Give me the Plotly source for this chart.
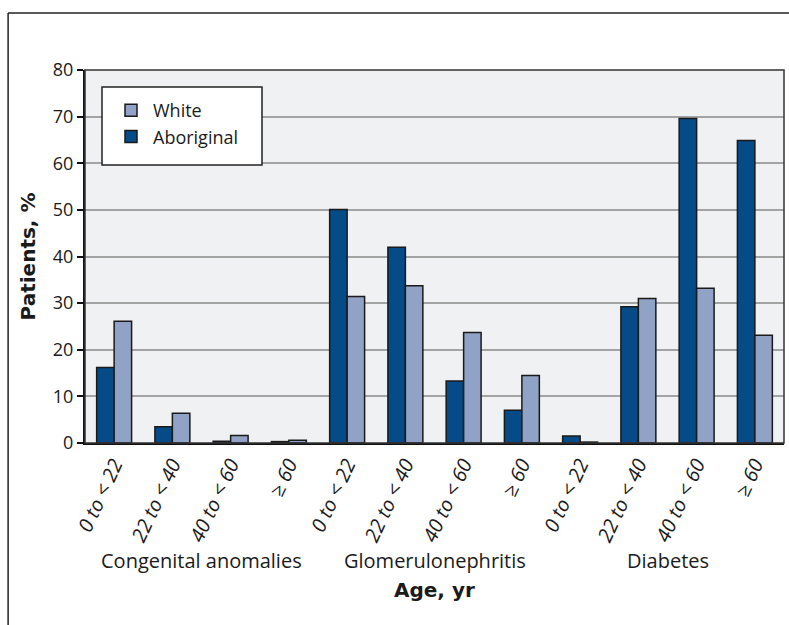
import plotly.graph_objects as go

age_labels = ["0 to < 22", "22 to < 40", "40 to < 60", "≥ 60"] * 3
groups = ["Congenital anomalies", "Glomerulonephritis", "Diabetes"]
aboriginal = [16.2, 3.5, 0.4, 0.3, 50.1, 42.0, 13.3, 7.0, 1.5, 29.2, 69.6, 64.9]
white = [26.1, 6.4, 1.6, 0.6, 31.4, 33.7, 23.7, 14.5, 0.2, 31.0, 33.2, 23.1]

x = list(range(len(age_labels)))
edge = dict(color="#1a1a1a", width=1.5)

fig = go.Figure()
fig.add_trace(go.Bar(x=x, y=aboriginal, name="Aboriginal",
                     marker=dict(color="#044b88", line=edge)))
fig.add_trace(go.Bar(x=x, y=white, name="White",
                     marker=dict(color="#90a2c5", line=edge)))

font_main = "Open Sans, Arial, sans-serif"
font_bold = "DejaVu Sans, sans-serif"

annotations = []
for i, g in enumerate(groups):
    annotations.append(dict(x=i * 4 + 1.5, y=-0.316, xref="x", yref="paper",
                            yanchor="middle", text=g, showarrow=False,
                            font=dict(size=20, color="#1a1a1a", family=font_main)))
annotations.append(dict(x=5.5, y=-0.394, xref="x", yref="paper", yanchor="middle",
                        text="<b>Age, yr</b>", showarrow=False,
                        font=dict(size=20, color="#1a1a1a", family=font_bold)))

shapes = [
    dict(type="line", xref="paper", yref="paper", x0=-0.110, x1=-0.110, y0=-0.6, y1=1.153,
         line=dict(color="#222", width=1.5)),
    dict(type="line", xref="paper", yref="paper", x0=-0.110, x1=1.2, y0=1.153, y1=1.153,
         line=dict(color="#222", width=1.5)),
    dict(type="rect", xref="paper", yref="paper", x0=0, x1=1, y0=0, y1=1,
         line=dict(color="#333", width=1.5), layer="above"),
    # legend box
    dict(type="rect", xref="paper", yref="paper",
         x0=(102 - 85) / 699, x1=(262 - 85) / 699,
         y0=(443 - 165) / 373, y1=(443 - 87) / 373,
         fillcolor="white", line=dict(color="#222", width=1.5), layer="above"),
]

fig.update_layout(
    width=789, height=625,
    margin=dict(l=85, r=5, t=70, b=182),
    paper_bgcolor="white", plot_bgcolor="#f0f1f3",
    barmode="group", bargap=0.4, bargroupgap=0,
    font=dict(family=font_main, color="#1a1a1a"),
    showlegend=True,
    legend=dict(x=(109 - 85) / 699, y=(443 - 92) / 373, xanchor="left", yanchor="top",
                traceorder="reversed", bgcolor="rgba(0,0,0,0)",
                borderwidth=0,
                font=dict(size=18, family=font_main),
                itemwidth=34, tracegroupgap=0),
    annotations=annotations,
    shapes=shapes,
    xaxis=dict(tickmode="array", tickvals=x, ticktext=["<i>%s</i>" % t for t in age_labels],
               tickangle=-65, range=[-0.5, 11.5],
               tickfont=dict(size=20, family=font_main),
               showline=True, linecolor="#111", linewidth=2,
               ticks="", showgrid=False, zeroline=False),
    yaxis=dict(range=[0, 80], dtick=10, ticks="outside", ticklen=6,
               tickwidth=2, tickcolor="#111",
               tickfont=dict(size=18, family=font_main),
               showline=True, linecolor="#111", linewidth=2,
               showgrid=True, gridcolor="#a3a3a3", gridwidth=2,
               zeroline=False,
               title=dict(text="<b>Patients, %</b>", standoff=12,
                          font=dict(size=20, family=font_bold))),
)

fig.write_html("out.html", config={"displayModeBar": False},
               post_script="document.body.style.margin='0';document.body.style.overflow='hidden';")
